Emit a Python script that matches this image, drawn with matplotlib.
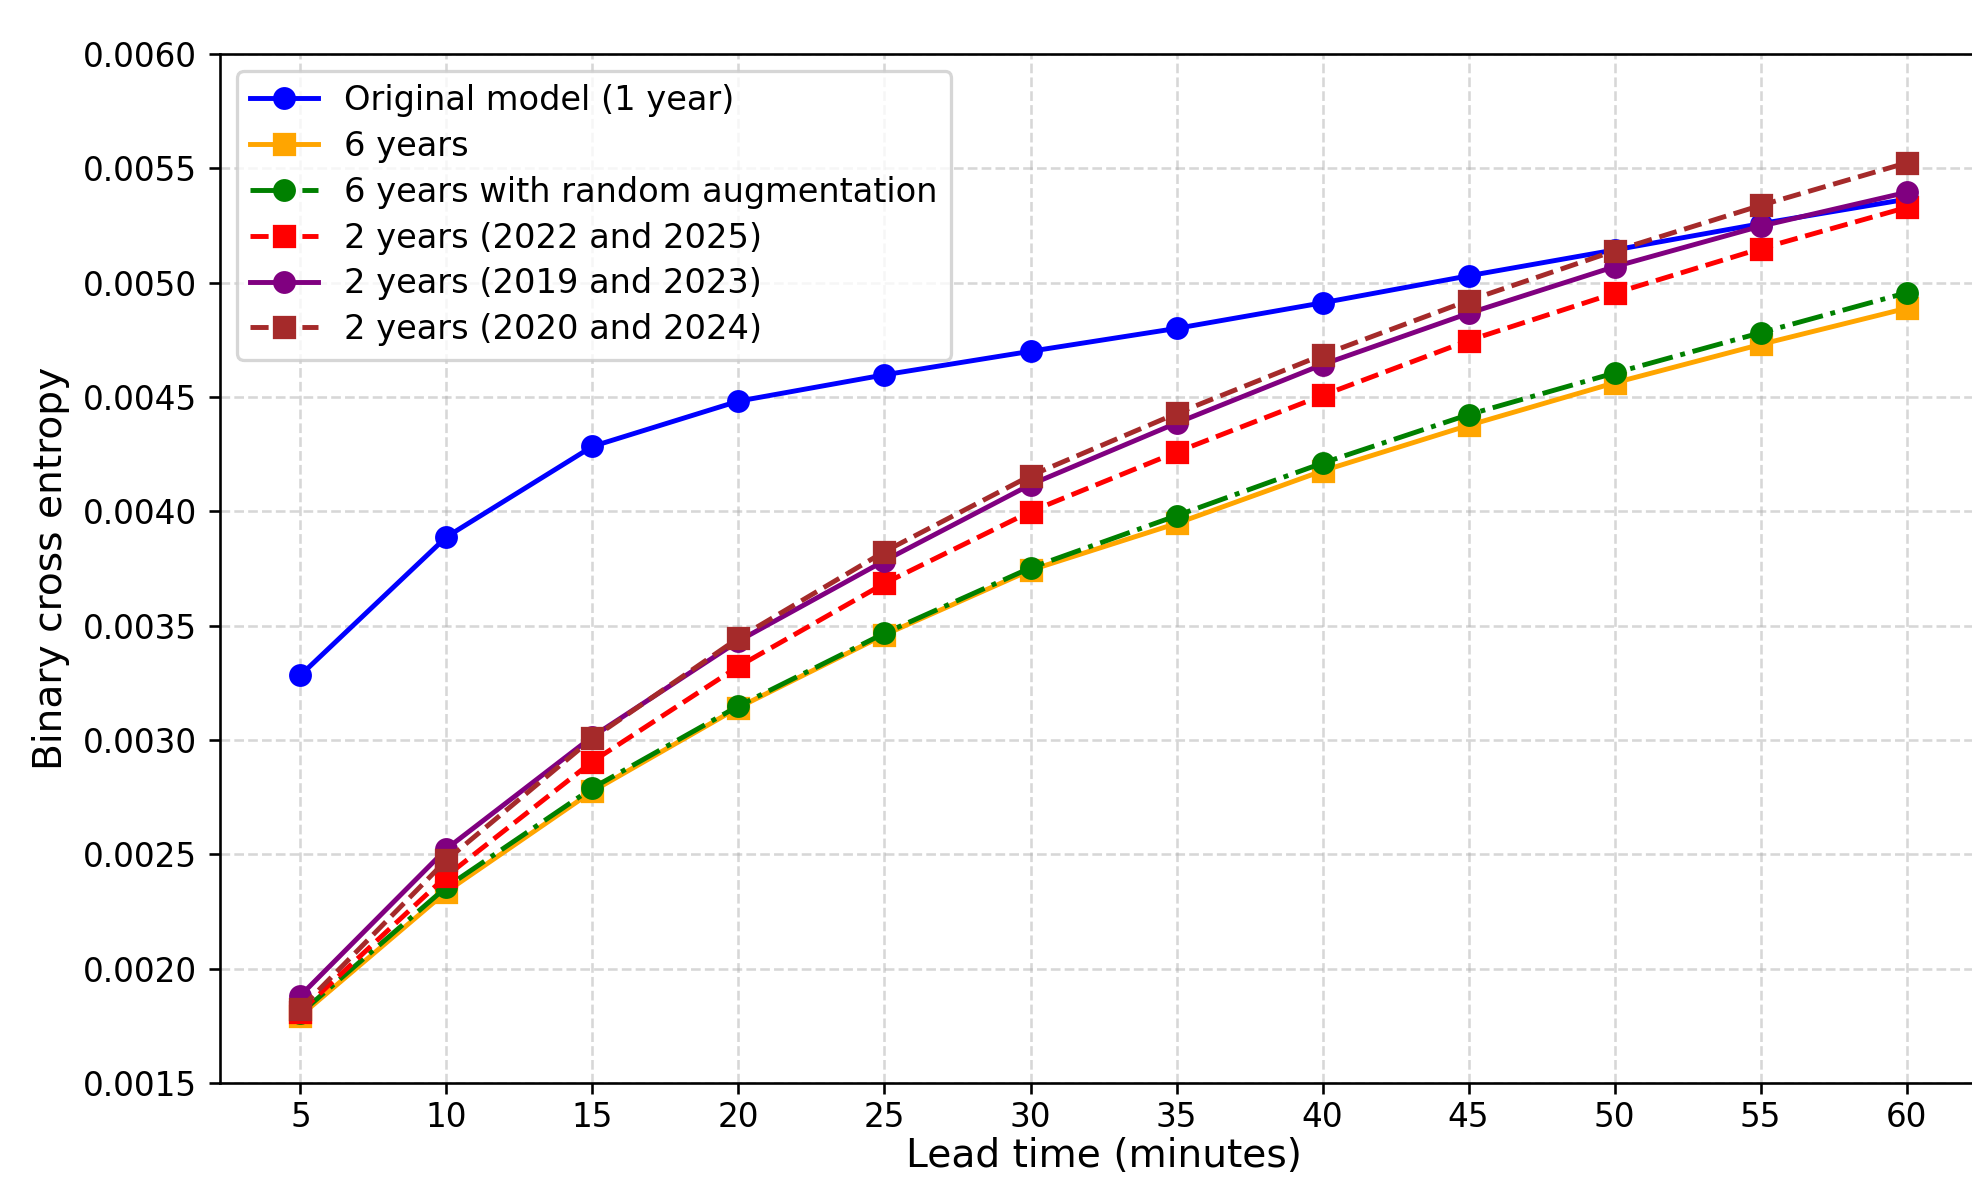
import matplotlib
matplotlib.use('Agg')
import matplotlib.pyplot as plt
from matplotlib.ticker import FormatStrFormatter

# ---------------------------------------------------------------------------
# Data
# ---------------------------------------------------------------------------
lead_time = [5, 10, 15, 20, 25, 30, 35, 40, 45, 50, 55, 60]

original_1y = [0.003283, 0.003888, 0.004284, 0.004482, 0.004597, 0.004700,
               0.004800, 0.004912, 0.005030, 0.005143, 0.005258, 0.005365]
six_years = [0.001794, 0.002337, 0.002776, 0.003142, 0.003460, 0.003743,
             0.003947, 0.004177, 0.004376, 0.004562, 0.004730, 0.004888]
six_years_aug = [0.001805, 0.002357, 0.002790, 0.003149, 0.003467, 0.003753,
                 0.003981, 0.004211, 0.004423, 0.004605, 0.004781, 0.004956]
two_y_2022_2025 = [0.001812, 0.002405, 0.002906, 0.003322, 0.003685, 0.003999,
                   0.004259, 0.004507, 0.004747, 0.004954, 0.005149, 0.005329]
two_y_2019_2023 = [0.001882, 0.002524, 0.003015, 0.003433, 0.003784, 0.004117,
                   0.004386, 0.004642, 0.004866, 0.005070, 0.005247, 0.005395]
two_y_2020_2024 = [0.001825, 0.002475, 0.003007, 0.003446, 0.003824, 0.004156,
                   0.004428, 0.004684, 0.004922, 0.005139, 0.005338, 0.005524]

y_ticks = [0.0015, 0.0020, 0.0025, 0.0030, 0.0035, 0.0040, 0.0045, 0.0050, 0.0055, 0.0060]

# ---------------------------------------------------------------------------
# Figure
# ---------------------------------------------------------------------------
DPI = 235
fig = plt.figure(figsize=(1972 / DPI, 1179 / DPI), dpi=DPI)
# axes run slightly past the right edge, as in the (cropped) reference
ax = fig.add_axes([0.1116, 0.0814, 0.896, 0.8728])

ax.plot(lead_time, original_1y, color='blue', marker='o', linestyle='-',
        label='Original model (1 year)')
ax.plot(lead_time, six_years, color='orange', marker='s', linestyle='-',
        label='6 years')
ax.plot(lead_time, six_years_aug, color='green', marker='o', linestyle='-.',
        label='6 years with random augmentation')
ax.plot(lead_time, two_y_2022_2025, color='red', marker='s', linestyle='--',
        label='2 years (2022 and 2025)')
ax.plot(lead_time, two_y_2019_2023, color='purple', marker='o', linestyle='-',
        label='2 years (2019 and 2023)')
ax.plot(lead_time, two_y_2020_2024, color='brown', marker='s', linestyle='--',
        label='2 years (2020 and 2024)')

ax.set_xticks(lead_time)
ax.set_yticks(y_ticks)
ax.set_ylim(0.0015, 0.0060)
ax.yaxis.set_major_formatter(FormatStrFormatter('%.4f'))
ax.tick_params(labelsize=10)
ax.tick_params(axis='x', pad=2)

ax.set_xlabel('Lead time (minutes)', fontsize=12, labelpad=1)
ax.set_ylabel('Binary cross entropy', fontsize=12)

ax.grid(True, linestyle='--', alpha=0.5)
ax.legend(loc='upper left', fontsize=10.3, labelspacing=0.38)

fig.savefig('out.png', dpi=DPI)
plt.close(fig)
